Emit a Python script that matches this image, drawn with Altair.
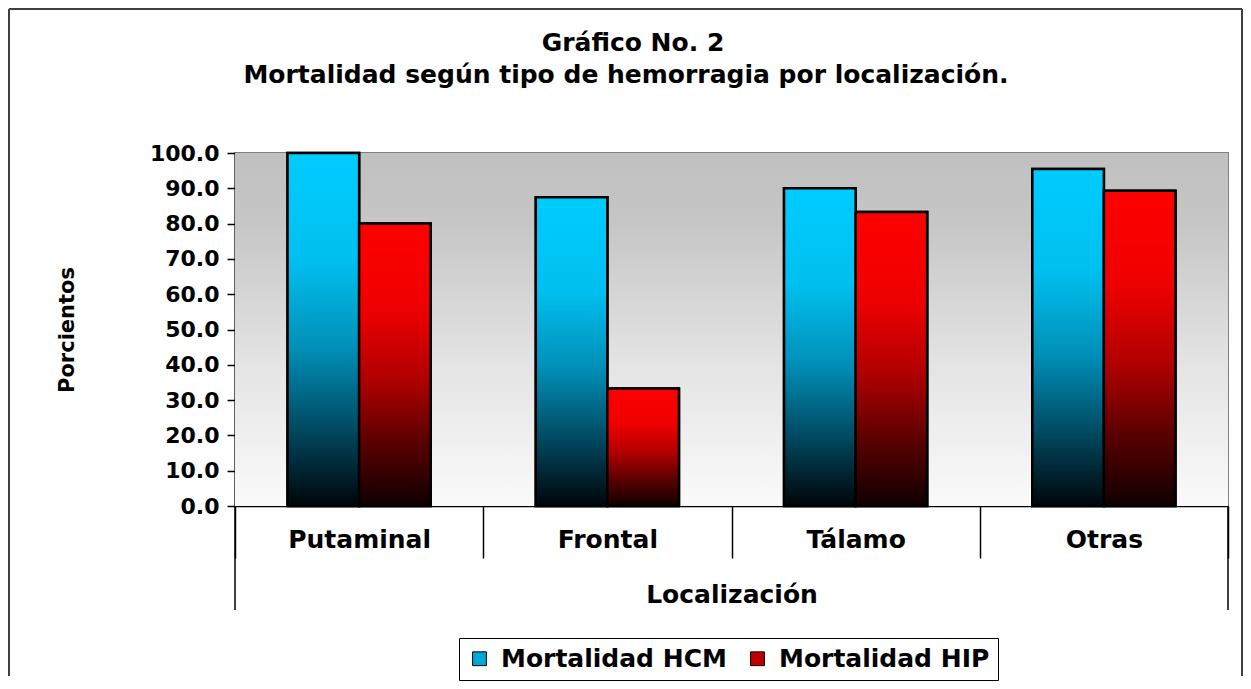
import altair as alt
import pandas as pd

# ---- data ----
categories = ["Putaminal", "Frontal", "Tálamo", "Otras"]
series_names = ["Mortalidad HCM", "Mortalidad HIP"]
hcm_values = [100.0, 87.5, 90.0, 95.5]
hip_values = [80.0, 33.3, 83.3, 89.3]
y_ticks = [0, 10, 20, 30, 40, 50, 60, 70, 80, 90, 100]
title_lines = ["Gráfico No. 2", "Mortalidad según tipo de hemorragia por localización."]
x_title = "Localización"
y_title = "Porcientos"

rows = []
for c, a, b in zip(categories, hcm_values, hip_values):
    rows.append({"loc": c, "serie": series_names[0], "valor": a})
    rows.append({"loc": c, "serie": series_names[1], "valor": b})
df = pd.DataFrame(rows)
one = pd.DataFrame({"k": [0]})

W, H = 993, 353
FONT = "DejaVu Sans"


def lin(stops):
    return alt.LinearGradient(
        gradient="linear",
        stops=[alt.GradientStop(offset=o, color=c) for o, c in stops],
        x1=0, x2=0, y1=0, y2=1,
    )


grad_hcm = lin([(0, "#00ccff"), (0.3, "#00c0f0"), (0.55, "#0090b8"), (0.78, "#004a62"), (1, "#000508")])
grad_hip = lin([(0, "#ff0000"), (0.3, "#ee0000"), (0.55, "#b00000"), (0.78, "#580000"), (1, "#100000")])
grad_bg = lin([(0, "#c0c0c0"), (0.2, "#c6c6c6"), (0.6, "#e4e4e4"), (1, "#fafafa")])

x_enc = alt.X(
    "loc:N",
    sort=categories,
    scale=alt.Scale(paddingInner=0, paddingOuter=0),
    axis=alt.Axis(
        title=x_title,
        labelAngle=0,
        tickBand="extent",
        tickSize=52,
        tickColor="black",
        tickWidth=1.5,
        domainColor="black",
        domainWidth=1.5,
        labelFont=FONT,
        labelFontSize=25,
        labelFontWeight="bold",
        labelColor="black",
        labelPadding=-31,
        labelLimit=300,
        titleFont=FONT,
        titleFontSize=25,
        titleFontWeight="bold",
        titleColor="black",
        titlePadding=24,
    ),
)
xo_enc = alt.XOffset("serie:N", sort=series_names, scale=alt.Scale(paddingInner=0, paddingOuter=0.734))
y_enc = alt.Y(
    "valor:Q",
    scale=alt.Scale(domain=[0, 100], nice=False),
    axis=alt.Axis(
        title=y_title,
        values=y_ticks,
        format=".1f",
        grid=False,
        tickSize=8,
        tickColor="black",
        tickWidth=1.5,
        domainColor="black",
        domainWidth=1.5,
        labelFont=FONT,
        labelFontSize=22,
        labelFontWeight="bold",
        labelColor="black",
        labelPadding=8,
        titleFont=FONT,
        titleFontSize=21,
        titleFontWeight="bold",
        titleColor="black",
        titlePadding=72,
    ),
)

# plot-area background gradient
bg = alt.Chart(one).mark_rect(fill=grad_bg).encode(
    x=alt.value(0), x2=alt.value(W), y=alt.value(0), y2=alt.value(H)
)

base = alt.Chart(df).mark_bar(stroke="black", strokeWidth=2.5).encode(
    x=x_enc,
    xOffset=xo_enc,
    y=y_enc,
    color=alt.Color(
        "serie:N",
        sort=series_names,
        scale=alt.Scale(domain=series_names, range=["#00a8d8", "#c00000"]),
        legend=alt.Legend(
            title=None,
            orient="none",
            legendX=224,
            legendY=485,
            direction="horizontal",
            strokeColor="black",
            fillColor="white",
            padding=8,
            symbolType="square",
            symbolSize=190,
            symbolStrokeColor="black",
            symbolStrokeWidth=1,
            labelFont=FONT,
            labelFontSize=25,
            labelFontWeight="bold",
            labelColor="black",
            labelOffset=9,
            labelLimit=400,
            columnPadding=18,
        ),
    ),
)

bars_hcm = alt.Chart(df).transform_filter(
    alt.datum.serie == series_names[0]
).mark_bar(fill=grad_hcm, stroke="black", strokeWidth=2.5).encode(x=x_enc, xOffset=xo_enc, y=y_enc)

bars_hip = alt.Chart(df).transform_filter(
    alt.datum.serie == series_names[1]
).mark_bar(fill=grad_hip, stroke="black", strokeWidth=2.5).encode(x=x_enc, xOffset=xo_enc, y=y_enc)

# outer separators of the category axis
sep_left = alt.Chart(one).mark_rule(color="black", strokeWidth=1.5).encode(
    x=alt.value(0), y=alt.value(H), y2=alt.value(H + 104)
)
sep_right = alt.Chart(one).mark_rule(color="black", strokeWidth=1.5).encode(
    x=alt.value(W), y=alt.value(H), y2=alt.value(H + 104)
)

# outer chart frame (left, top, right)
frame_left = alt.Chart(one).mark_rule(color="#404040", strokeWidth=2).encode(
    x=alt.value(-226), y=alt.value(-144), y2=alt.value(523)
)
frame_top = alt.Chart(one).mark_rule(color="#404040", strokeWidth=2).encode(
    x=alt.value(-226), x2=alt.value(1007), y=alt.value(-144)
)
frame_right = alt.Chart(one).mark_rule(color="#404040", strokeWidth=2).encode(
    x=alt.value(1007), y=alt.value(-144), y2=alt.value(523)
)

t1 = alt.Chart(one).mark_text(
    text=title_lines[0], font=FONT, fontSize=25, fontWeight="bold", align="center", baseline="middle", color="black"
).encode(x=alt.value(398), y=alt.value(-110))
t2 = alt.Chart(one).mark_text(
    text=title_lines[1], font=FONT, fontSize=25, fontWeight="bold", align="center", baseline="middle", color="black"
).encode(x=alt.value(391), y=alt.value(-78))

chart = alt.layer(
    bg, base, bars_hcm, bars_hip, sep_left, sep_right, frame_left, frame_top, frame_right, t1, t2
).properties(
    width=W, height=H, padding=0, background="white"
).configure_view(
    stroke="#808080", strokeWidth=2
)

chart.save("out.html", embed_options={"renderer": "svg", "actions": False})
